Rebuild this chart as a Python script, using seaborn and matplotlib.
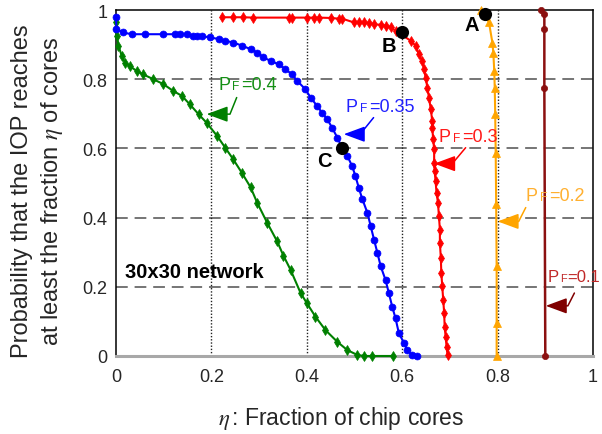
import matplotlib
matplotlib.use("Agg")
import matplotlib.pyplot as plt
import seaborn as sns
from matplotlib.offsetbox import TextArea, HPacker, AnnotationBbox

# ---------------- data ----------------
green_x = [0.0, 0.0, 0.002, 0.005, 0.012, 0.019, 0.029, 0.043, 0.057, 0.078,
           0.099, 0.12, 0.138, 0.155, 0.173, 0.19, 0.212, 0.229, 0.246, 0.264,
           0.282, 0.296, 0.317, 0.338, 0.351, 0.366, 0.387, 0.40, 0.418, 0.439,
           0.464, 0.485, 0.506, 0.52, 0.537, 0.58]
green_y = [0.965, 0.945, 0.925, 0.897, 0.868, 0.848, 0.838, 0.824, 0.814, 0.80,
           0.786, 0.766, 0.752, 0.727, 0.699, 0.674, 0.636, 0.602, 0.568, 0.529,
           0.488, 0.443, 0.385, 0.331, 0.29, 0.249, 0.182, 0.153, 0.114, 0.075,
           0.041, 0.017, 0.003, 0.0, 0.0, 0.0]

blue_x = [0.0, 0.001, 0.014, 0.033, 0.061, 0.098, 0.124, 0.134, 0.148, 0.162,
          0.170, 0.18, 0.197, 0.215, 0.229, 0.246, 0.264, 0.282, 0.296, 0.309,
          0.324, 0.341, 0.355, 0.369, 0.38, 0.397, 0.408, 0.422, 0.432, 0.443,
          0.453, 0.464, 0.474, 0.485, 0.495, 0.502, 0.509, 0.516, 0.527, 0.534,
          0.541, 0.548, 0.555, 0.565, 0.572, 0.579, 0.586, 0.593, 0.604, 0.611,
          0.621, 0.632]
blue_y = [0.979, 0.945, 0.935, 0.93, 0.93, 0.93, 0.93, 0.93, 0.93, 0.925,
          0.925, 0.924, 0.921, 0.916, 0.911, 0.906, 0.897, 0.887, 0.877, 0.863,
          0.853, 0.843, 0.829, 0.814, 0.795, 0.771, 0.747, 0.722, 0.703, 0.684,
          0.66, 0.631, 0.602, 0.578, 0.549, 0.52, 0.486, 0.455, 0.414, 0.375,
          0.336, 0.298, 0.259, 0.22, 0.182, 0.143, 0.109, 0.066, 0.037, 0.017,
          0.003, 0.0]

red_x = [0.222, 0.246, 0.267, 0.288, 0.362, 0.369, 0.40, 0.415, 0.425, 0.45,
         0.467, 0.474, 0.499, 0.509, 0.52, 0.53, 0.541, 0.555, 0.565, 0.576,
         0.586, 0.618, 0.628, 0.635, 0.642, 0.646, 0.649, 0.653, 0.656, 0.66,
         0.663, 0.663, 0.665, 0.667, 0.667, 0.668, 0.67, 0.672, 0.675, 0.677,
         0.679, 0.679, 0.681, 0.682, 0.684, 0.686, 0.688, 0.689, 0.691, 0.693,
         0.695]
red_y = [0.979, 0.979, 0.979, 0.978, 0.978, 0.978, 0.978, 0.978, 0.978, 0.977,
         0.975, 0.975, 0.964, 0.964, 0.964, 0.962, 0.959, 0.957, 0.955, 0.95,
         0.94, 0.911, 0.897, 0.872, 0.853, 0.829, 0.804, 0.775, 0.747, 0.713,
         0.679, 0.66, 0.626, 0.597, 0.558, 0.534, 0.505, 0.471, 0.443, 0.404,
         0.365, 0.327, 0.283, 0.24, 0.201, 0.162, 0.124, 0.085, 0.056, 0.027,
         0.003]

orange_x = [0.765, 0.772, 0.782, 0.789, 0.791, 0.793, 0.794, 0.795, 0.796,
            0.797, 0.798, 0.798, 0.798]
orange_y = [1.0, 0.99, 0.964, 0.906, 0.877, 0.824, 0.776, 0.699, 0.588,
            0.44, 0.259, 0.095, 0.0]

darkred_x = [0.891, 0.898, 0.898, 0.898, 0.90]
darkred_y = [1.0, 0.988, 0.945, 0.776, 0.0]

point_labels = ["A", "B", "C"]
point_x = [0.773, 0.599, 0.474]
point_y = [0.988, 0.936, 0.602]

pf_values = ["0.4", "0.35", "0.3", "0.2", "0.1"]

xtick_vals = [0, 0.2, 0.4, 0.6, 0.8, 1]
xtick_labels = ["0", "0.2", "0.4", "0.6", "0.8", "1"]
xminor_vals = [0.1, 0.3, 0.5, 0.7, 0.9]
ytick_vals = [0, 0.2, 0.4, 0.6, 0.8, 1]
ytick_labels = ["0", "0.2", "0.4", "0.6", "0.8", "1"]

# ---------------- style ----------------
sns.set_style("white")
plt.rcParams["font.family"] = ["Liberation Sans", "DejaVu Sans"]
plt.rcParams["mathtext.fontset"] = "stix"

W, H = 602, 435
fig = plt.figure(figsize=(W / 100, H / 100), dpi=100)
ax = fig.add_axes([116 / W, 1 - 357 / H, 477 / W, 346 / H])

# grid
for yv in [0.2, 0.4, 0.6, 0.8]:
    ax.axhline(yv, color="#6a6a6a", lw=1.3, dashes=(6.5, 3.8), zorder=1)
for xv in [0.2, 0.4, 0.6, 0.8]:
    ax.axvline(xv, color="#222222", lw=1.0, ls=(0, (1, 1.3)), zorder=1)

# series
series = [
    (green_x, green_y, "#008000", "d", 5.5, 1.5),
    (blue_x, blue_y, "#0000FF", "o", 5.0, 1.5),
    (red_x, red_y, "#FF0000", "d", 5.0, 1.5),
    (orange_x, orange_y, "#FFA500", "^", 5.5, 1.5),
    (darkred_x, darkred_y, "#8B1010", "o", 4.5, 1.8),
]
for xs, ys, c, m, ms, lw in series:
    sns.lineplot(x=xs, y=ys, color=c, marker=m, markersize=ms,
                 markeredgecolor=c, markeredgewidth=0.5, lw=lw,
                 sort=False, estimator=None, ax=ax, clip_on=False, zorder=3)

# highlighted points A, B, C
sns.scatterplot(x=point_x, y=point_y, color="black", s=90, ax=ax,
                zorder=5, clip_on=False, linewidth=0)
label_pos = [(0.745, 0.958), (0.5725, 0.897), (0.436, 0.564)]
for lab, (lx, ly) in zip(point_labels, label_pos):
    ax.text(lx, ly, lab, fontsize=14.5, fontweight="bold", ha="center",
            va="center", color="black", zorder=6)

ax.text(0.019, 0.245, "30x30 network", fontsize=14.5, fontweight="bold",
        ha="left", va="center", color="black", zorder=6)

# PF labels with arrows
pf_specs = [
    # text pos, arrow tip, arrow start, text colour, arrow colour, angleA, size
    ((0.214, 0.786), (0.19, 0.699), (0.253, 0.747), "#159015", "#008000", 68, 13),
    ((0.481, 0.722), (0.4775, 0.641), (0.54, 0.689), "#2222FF", "#0000FF", 51, 13),
    ((0.677, 0.635), (0.667, 0.556), (0.733, 0.602), "#FF1a1a", "#FF0000", 50, 13),
    ((0.859, 0.464), (0.80, 0.389), (0.859, 0.429), "#FFB030", "#FFA500", 63, 13),
    ((0.905, 0.229), (0.901, 0.145), (0.961, 0.182), "#C02828", "#800000", 63, 12),
]
for val, (tpos, tip, start, tc, ac, angA, fs) in zip(pf_values, pf_specs):
    parts = [TextArea("P", textprops=dict(color=tc, size=fs)),
             TextArea("F", textprops=dict(color=tc, size=fs * 0.66)),
             TextArea("=" + val, textprops=dict(color=tc, size=fs))]
    box = HPacker(children=parts, align="baseline", pad=0,
                  sep=1.5 if fs > 12 else 0.8)
    ab = AnnotationBbox(box, tpos, xycoords="data", box_alignment=(0, 0.5),
                        frameon=False, pad=0, annotation_clip=False, zorder=7)
    ax.add_artist(ab)
    ax.annotate("", xy=tip, xytext=start, xycoords="data", textcoords="data",
                annotation_clip=False,
                arrowprops=dict(arrowstyle="-|>,head_length=0.65,head_width=0.24",
                                mutation_scale=20,
                                connectionstyle=f"angle,angleA={angA},angleB=0,rad=0",
                                color=ac, lw=1.1, shrinkA=0, shrinkB=0),
                zorder=7)

# axes
ax.set_xlim(0, 1)
ax.set_ylim(0, 1)
ax.set_xticks(xtick_vals)
ax.set_xticklabels(xtick_labels)
ax.set_xticks(xminor_vals, minor=True)
ax.set_yticks(ytick_vals)
ax.set_yticklabels(ytick_labels)
ax.tick_params(axis="x", which="both", direction="in", length=10, width=1.3,
               color="black", labelsize=13, pad=9, top=False)
ax.tick_params(axis="y", which="both", direction="in", length=3.5, width=1.2,
               color="black", labelsize=13, pad=6, right=False)
ax.set_xlabel("")
ax.set_ylabel("")
for side in ["left", "top", "right"]:
    ax.spines[side].set_visible(True)
    ax.spines[side].set_color("black")
    ax.spines[side].set_linewidth(1.1)
ax.spines["bottom"].set_color("#a8a8a8")
ax.spines["bottom"].set_linewidth(2.2)

fig.text(341 / W, 1 - 419 / H, r"$\eta\,$: Fraction of chip cores",
         fontsize=16.5, ha="center", va="center")
fig.text(38 / W, 1 - 191 / H,
         "Probability that the IOP reaches\nat least the fraction $\\eta$ of cores",
         fontsize=17, rotation=90, ha="center", va="center", linespacing=1.3,
         multialignment="center")

fig.savefig("out.png", dpi=100)
